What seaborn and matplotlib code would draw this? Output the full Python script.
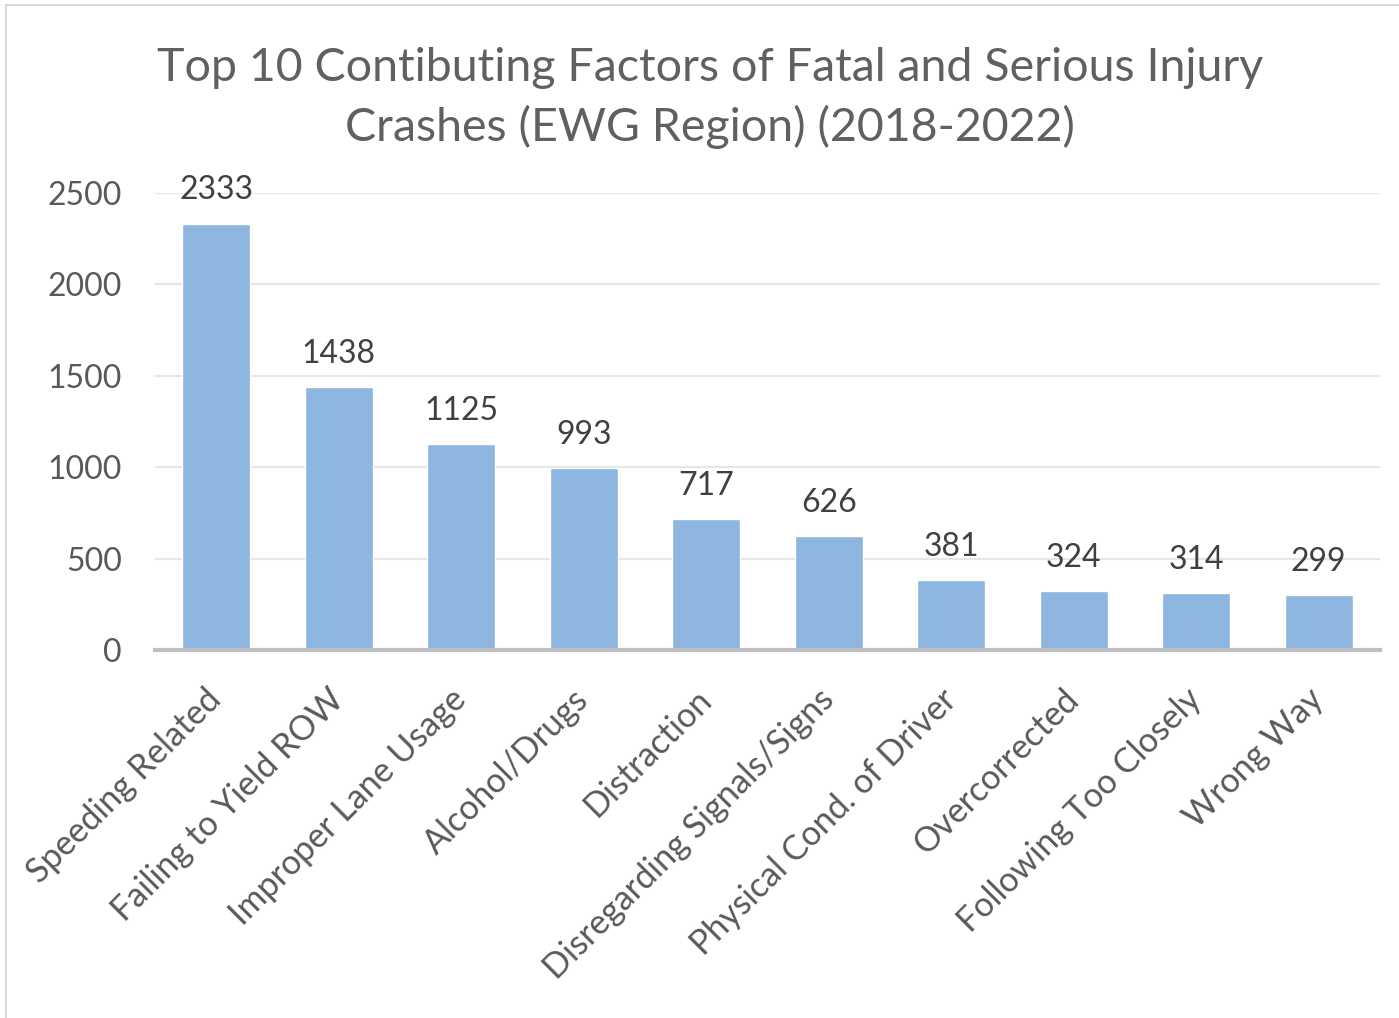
import pandas as pd
import matplotlib.pyplot as plt
import seaborn as sns

# data
factors = ["Speeding Related", "Failing to Yield ROW", "Improper Lane Usage",
           "Alcohol/Drugs", "Distraction", "Disregarding Signals/Signs",
           "Physical Cond. of Driver", "Overcorrected", "Following Too Closely",
           "Wrong Way"]
crashes = [2333, 1438, 1125, 993, 717, 626, 381, 324, 314, 299]
y_ticks = [0, 500, 1000, 1500, 2000, 2500]

df = pd.DataFrame({"factor": factors, "crashes": crashes})

sns.set_style("white")
plt.rcParams["font.family"] = ["Lato", "DejaVu Sans"]

fig = plt.figure(figsize=(13.99, 10.18), dpi=100)
ax = fig.add_axes([0.1108, 0.3615, 0.8756, 0.4489])

sns.barplot(data=df, x="factor", y="crashes", color="#8DB6E1",
            width=0.555, saturation=1, ax=ax)

# value labels on top of bars
for c in ax.containers:
    ax.bar_label(c, labels=[str(v) for v in crashes], padding=13,
                 fontsize=23, color="#404040")

ax.set_ylim(0, 2500)
ax.set_xlim(-0.5, len(factors) - 0.5)
ax.set_yticks(y_ticks)
ax.set_yticklabels([str(t) for t in y_ticks], fontsize=23, color="#595959")
ax.set_xticks(range(len(factors)))
ax.set_xticklabels(factors, rotation=45, ha="right", va="center",
                   rotation_mode="anchor", fontsize=24.5, color="#595959")
ax.tick_params(axis="both", length=0)
ax.tick_params(axis="x", pad=32)
ax.tick_params(axis="y", pad=24)
ax.set_xlabel("")
ax.set_ylabel("")

ax.yaxis.grid(True, color="#E6E6E6", linewidth=1.5)
ax.set_axisbelow(True)
for s in ["top", "right", "left"]:
    ax.spines[s].set_visible(False)
ax.spines["bottom"].set_color("#BFBFBF")
ax.spines["bottom"].set_linewidth(3)

fig.text(0.5075, 0.9035, "Top 10 Contibuting Factors of Fatal and Serious Injury\nCrashes (EWG Region) (2018-2022)",
         ha="center", va="center", fontsize=33.5, color="#606060",
         linespacing=1.45)

# thin chart frame
frame = plt.Rectangle((0.004, -0.01), 1.1, 1.005, transform=fig.transFigure,
                      fill=False, edgecolor="#D9D9D9", linewidth=1.5)
fig.patches.append(frame)

fig.savefig("out.png", dpi=100)
